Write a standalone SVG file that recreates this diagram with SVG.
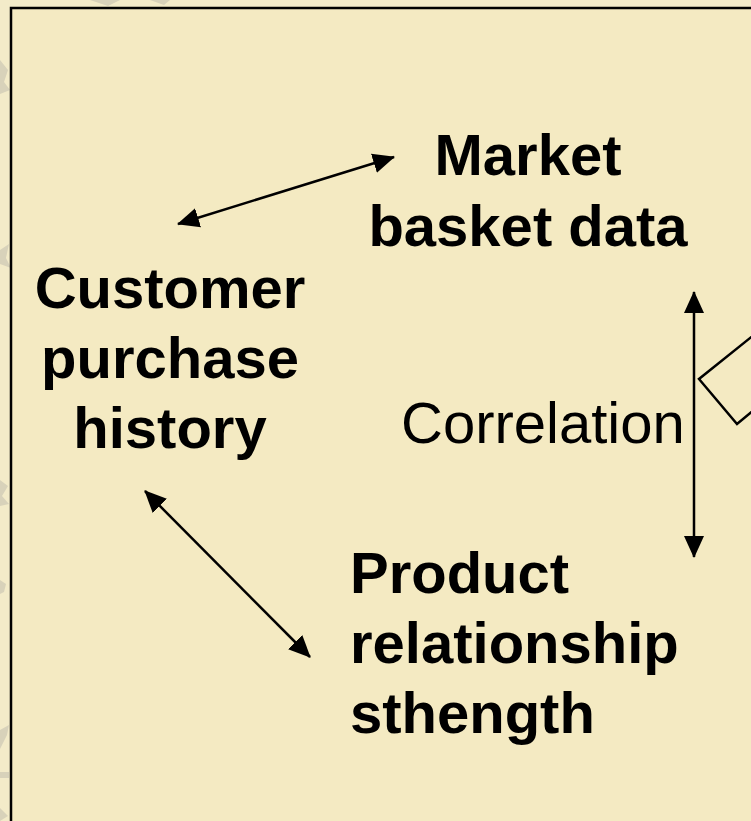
<svg xmlns="http://www.w3.org/2000/svg" width="751" height="821" viewBox="0 0 751 821">
<defs>
<style>
.b{font-family:"Liberation Sans",Arial,sans-serif;font-weight:bold;font-size:58px;fill:#000}
.r{font-family:"Liberation Sans",Arial,sans-serif;font-size:58px;fill:#000}
.c{stroke:#000;stroke-width:2.5;fill:none}
</style>
<marker id="a" viewBox="0 0 22 22" refX="21" refY="11" markerWidth="22" markerHeight="22" markerUnits="userSpaceOnUse" orient="auto-start-reverse">
<path d="M0,1 L22,11 L0,21 z" fill="#000"/>
</marker>
</defs>
<rect x="0" y="0" width="751" height="821" fill="#F3EBC9"/>
<g fill="#D8D2BA">
<path d="M0,60 l8,10 l-4,12 l6,8 l-10,4 z"/>
<path d="M0,250 l9,-6 l-3,14 l5,10 l-11,-4 z"/>
<path d="M0,480 l8,6 l-6,10 l7,8 l-9,2 z"/>
<path d="M0,580 l6,4 l-2,8 l-4,2 z"/>
<path d="M0,730 l9,-5 l-2,10 l-7,14 z"/>
<rect x="0" y="772" width="9" height="6"/>
<path d="M0,808 l8,8 l-8,5 z"/>
<path d="M90,0 l30,0 l-12,6 z"/>
<path d="M150,0 l20,0 l-6,5 z"/>
</g>
<rect x="11" y="8" width="760" height="830" fill="#F4EAC2" stroke="#000" stroke-width="2.5"/>
<g id="connectors">
<line class="c" x1="178" y1="224" x2="394" y2="157" marker-start="url(#a)" marker-end="url(#a)"/>
<line class="c" x1="145" y1="491" x2="310" y2="657" marker-start="url(#a)" marker-end="url(#a)"/>
<line class="c" x1="694" y1="292" x2="694" y2="557" marker-start="url(#a)" marker-end="url(#a)"/>
</g>
<g id="shape-right">
<polyline points="760,330 699,379 737,424 760,405" fill="none" stroke="#000" stroke-width="2.5"/>
</g>
<g id="node-market">
<text class="b" x="528" y="175" text-anchor="middle">Market</text>
<text class="b" x="528" y="246" text-anchor="middle">basket data</text>
</g>
<g id="node-customer">
<text class="b" x="170" y="308" text-anchor="middle">Customer</text>
<text class="b" x="170" y="378" text-anchor="middle">purchase</text>
<text class="b" x="170" y="448" text-anchor="middle">history</text>
</g>
<g id="node-product">
<text class="b" x="350" y="593">Product</text>
<text class="b" x="350" y="663">relationship</text>
<text class="b" x="350" y="733">sthength</text>
</g>
<g id="label-correlation">
<text class="r" x="401" y="443">Correlation</text>
</g>
</svg>
